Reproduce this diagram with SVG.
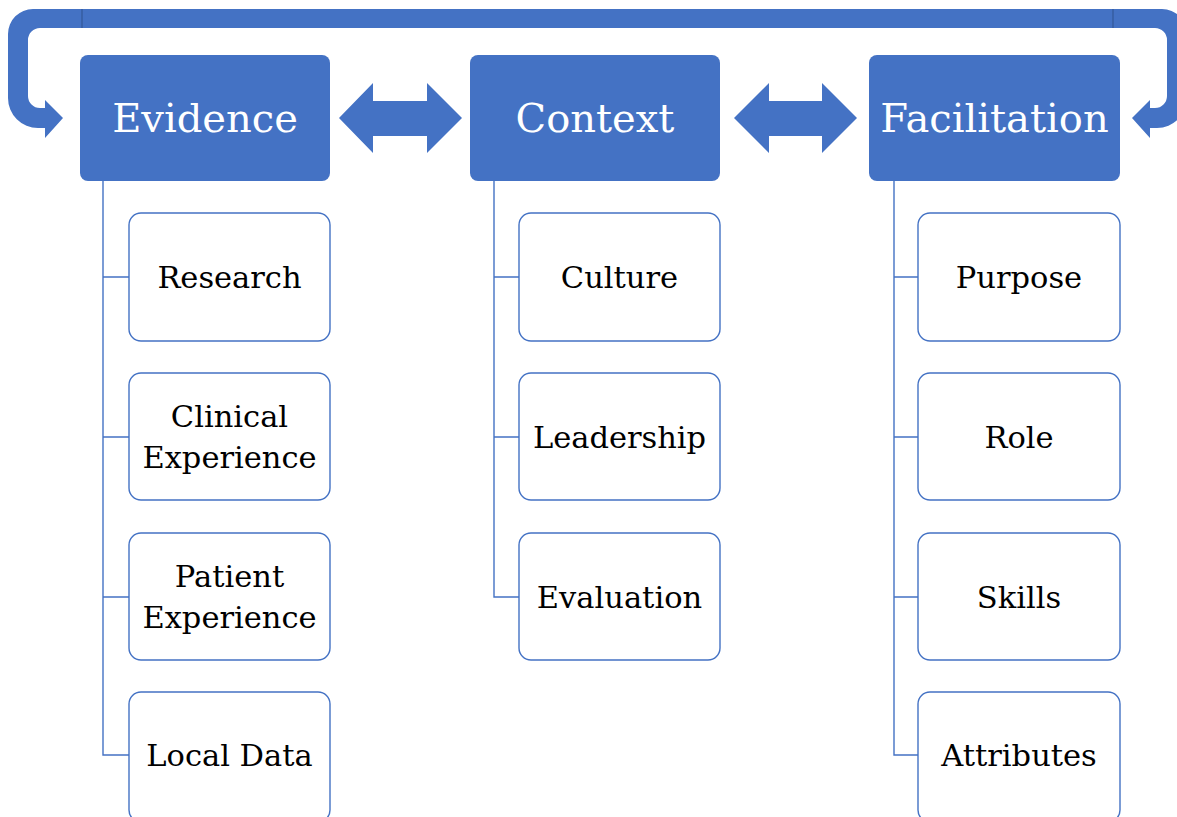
<svg xmlns="http://www.w3.org/2000/svg" width="1177" height="817" viewBox="0 0 1177 817">
<style>
.head{fill:#4472C4;}
.child{fill:#FFFFFF;stroke:#4472C4;stroke-width:1.4;}
.ht{font-family:"DejaVu Serif",serif;font-size:40px;fill:#FFFFFF;text-anchor:middle;}
.ct{font-family:"DejaVu Serif",serif;font-size:30.5px;fill:#000000;text-anchor:middle;}
.conn{fill:none;stroke:#4472C4;stroke-width:1.4;}
.arrow{fill:#4472C4;}
.seam{stroke:#2F528F;stroke-width:1;}
</style>
<rect width="1177" height="817" fill="#FFFFFF"/>
<g id="connectors">
  <path class="arrow" d="M82 9 L33 9 A25 25 0 0 0 8 34 L8 98 A30 30 0 0 0 38 128 L45 128 L45 138 L63 118 L45 100 L45 108 L40 108 A12 12 0 0 1 28 96 L28 40 A12 12 0 0 1 40 28 L82 28 Z"/>
  <rect class="arrow" x="82" y="9" width="1031" height="19"/>
  <path class="arrow" d="M1113 9 L1162 9 A25 25 0 0 1 1187 34 L1187 98 A30 30 0 0 1 1157 128 L1150 128 L1150 138 L1132 118 L1150 100 L1150 108 L1155 108 A12 12 0 0 0 1167 96 L1167 40 A12 12 0 0 0 1155 28 L1113 28 Z"/>
  <line class="seam" x1="82" y1="9" x2="82" y2="28"/>
  <line class="seam" x1="1113" y1="9" x2="1113" y2="28"/>
  <path class="arrow" d="M339 118 L373 83 L373 101 L427 101 L427 83 L462 118 L427 153 L427 136 L373 136 L373 153 Z"/>
  <path class="arrow" d="M734 118 L769 83 L769 101 L822 101 L822 83 L857 118 L822 153 L822 136 L769 136 L769 153 Z"/>
  <path class="conn" d="M103 181 V755 H129 M103 277 H129 M103 437 H129 M103 597 H129"/>
  <path class="conn" d="M494 181 V597 H519 M494 277 H519 M494 437 H519"/>
  <path class="conn" d="M894 181 V755 H918 M894 277 H918 M894 437 H918 M894 597 H918"/>
</g>
<g id="evidence"><rect class="head" x="80" y="55" width="250" height="126" rx="8"/><text class="ht" x="205" y="132">Evidence</text></g>
<g id="context"><rect class="head" x="470" y="55" width="250" height="126" rx="8"/><text class="ht" x="595" y="132">Context</text></g>
<g id="facilitation"><rect class="head" x="869" y="55" width="251" height="126" rx="8"/><text class="ht" x="994.5" y="132">Facilitation</text></g>

<g id="research"><rect class="child" x="129" y="213" width="201" height="128" rx="12"/><text class="ct" x="229.5" y="288">Research</text></g>
<g id="clinical-experience"><rect class="child" x="129" y="373" width="201" height="127" rx="12"/><text class="ct" x="229.5" y="427">Clinical</text><text class="ct" x="229.5" y="468">Experience</text></g>
<g id="patient-experience"><rect class="child" x="129" y="533" width="201" height="127" rx="12"/><text class="ct" x="229.5" y="587">Patient</text><text class="ct" x="229.5" y="628">Experience</text></g>
<g id="local-data"><rect class="child" x="129" y="692" width="201" height="130" rx="12"/><text class="ct" x="229.5" y="766">Local Data</text></g>

<g id="culture"><rect class="child" x="519" y="213" width="201" height="128" rx="12"/><text class="ct" x="619.5" y="288">Culture</text></g>
<g id="leadership"><rect class="child" x="519" y="373" width="201" height="127" rx="12"/><text class="ct" x="619.5" y="448">Leadership</text></g>
<g id="evaluation"><rect class="child" x="519" y="533" width="201" height="127" rx="12"/><text class="ct" x="619.5" y="608">Evaluation</text></g>

<g id="purpose"><rect class="child" x="918" y="213" width="202" height="128" rx="12"/><text class="ct" x="1019" y="288">Purpose</text></g>
<g id="role"><rect class="child" x="918" y="373" width="202" height="127" rx="12"/><text class="ct" x="1019" y="448">Role</text></g>
<g id="skills"><rect class="child" x="918" y="533" width="202" height="127" rx="12"/><text class="ct" x="1019" y="608">Skills</text></g>
<g id="attributes"><rect class="child" x="918" y="692" width="202" height="130" rx="12"/><text class="ct" x="1019" y="766">Attributes</text></g>
</svg>
